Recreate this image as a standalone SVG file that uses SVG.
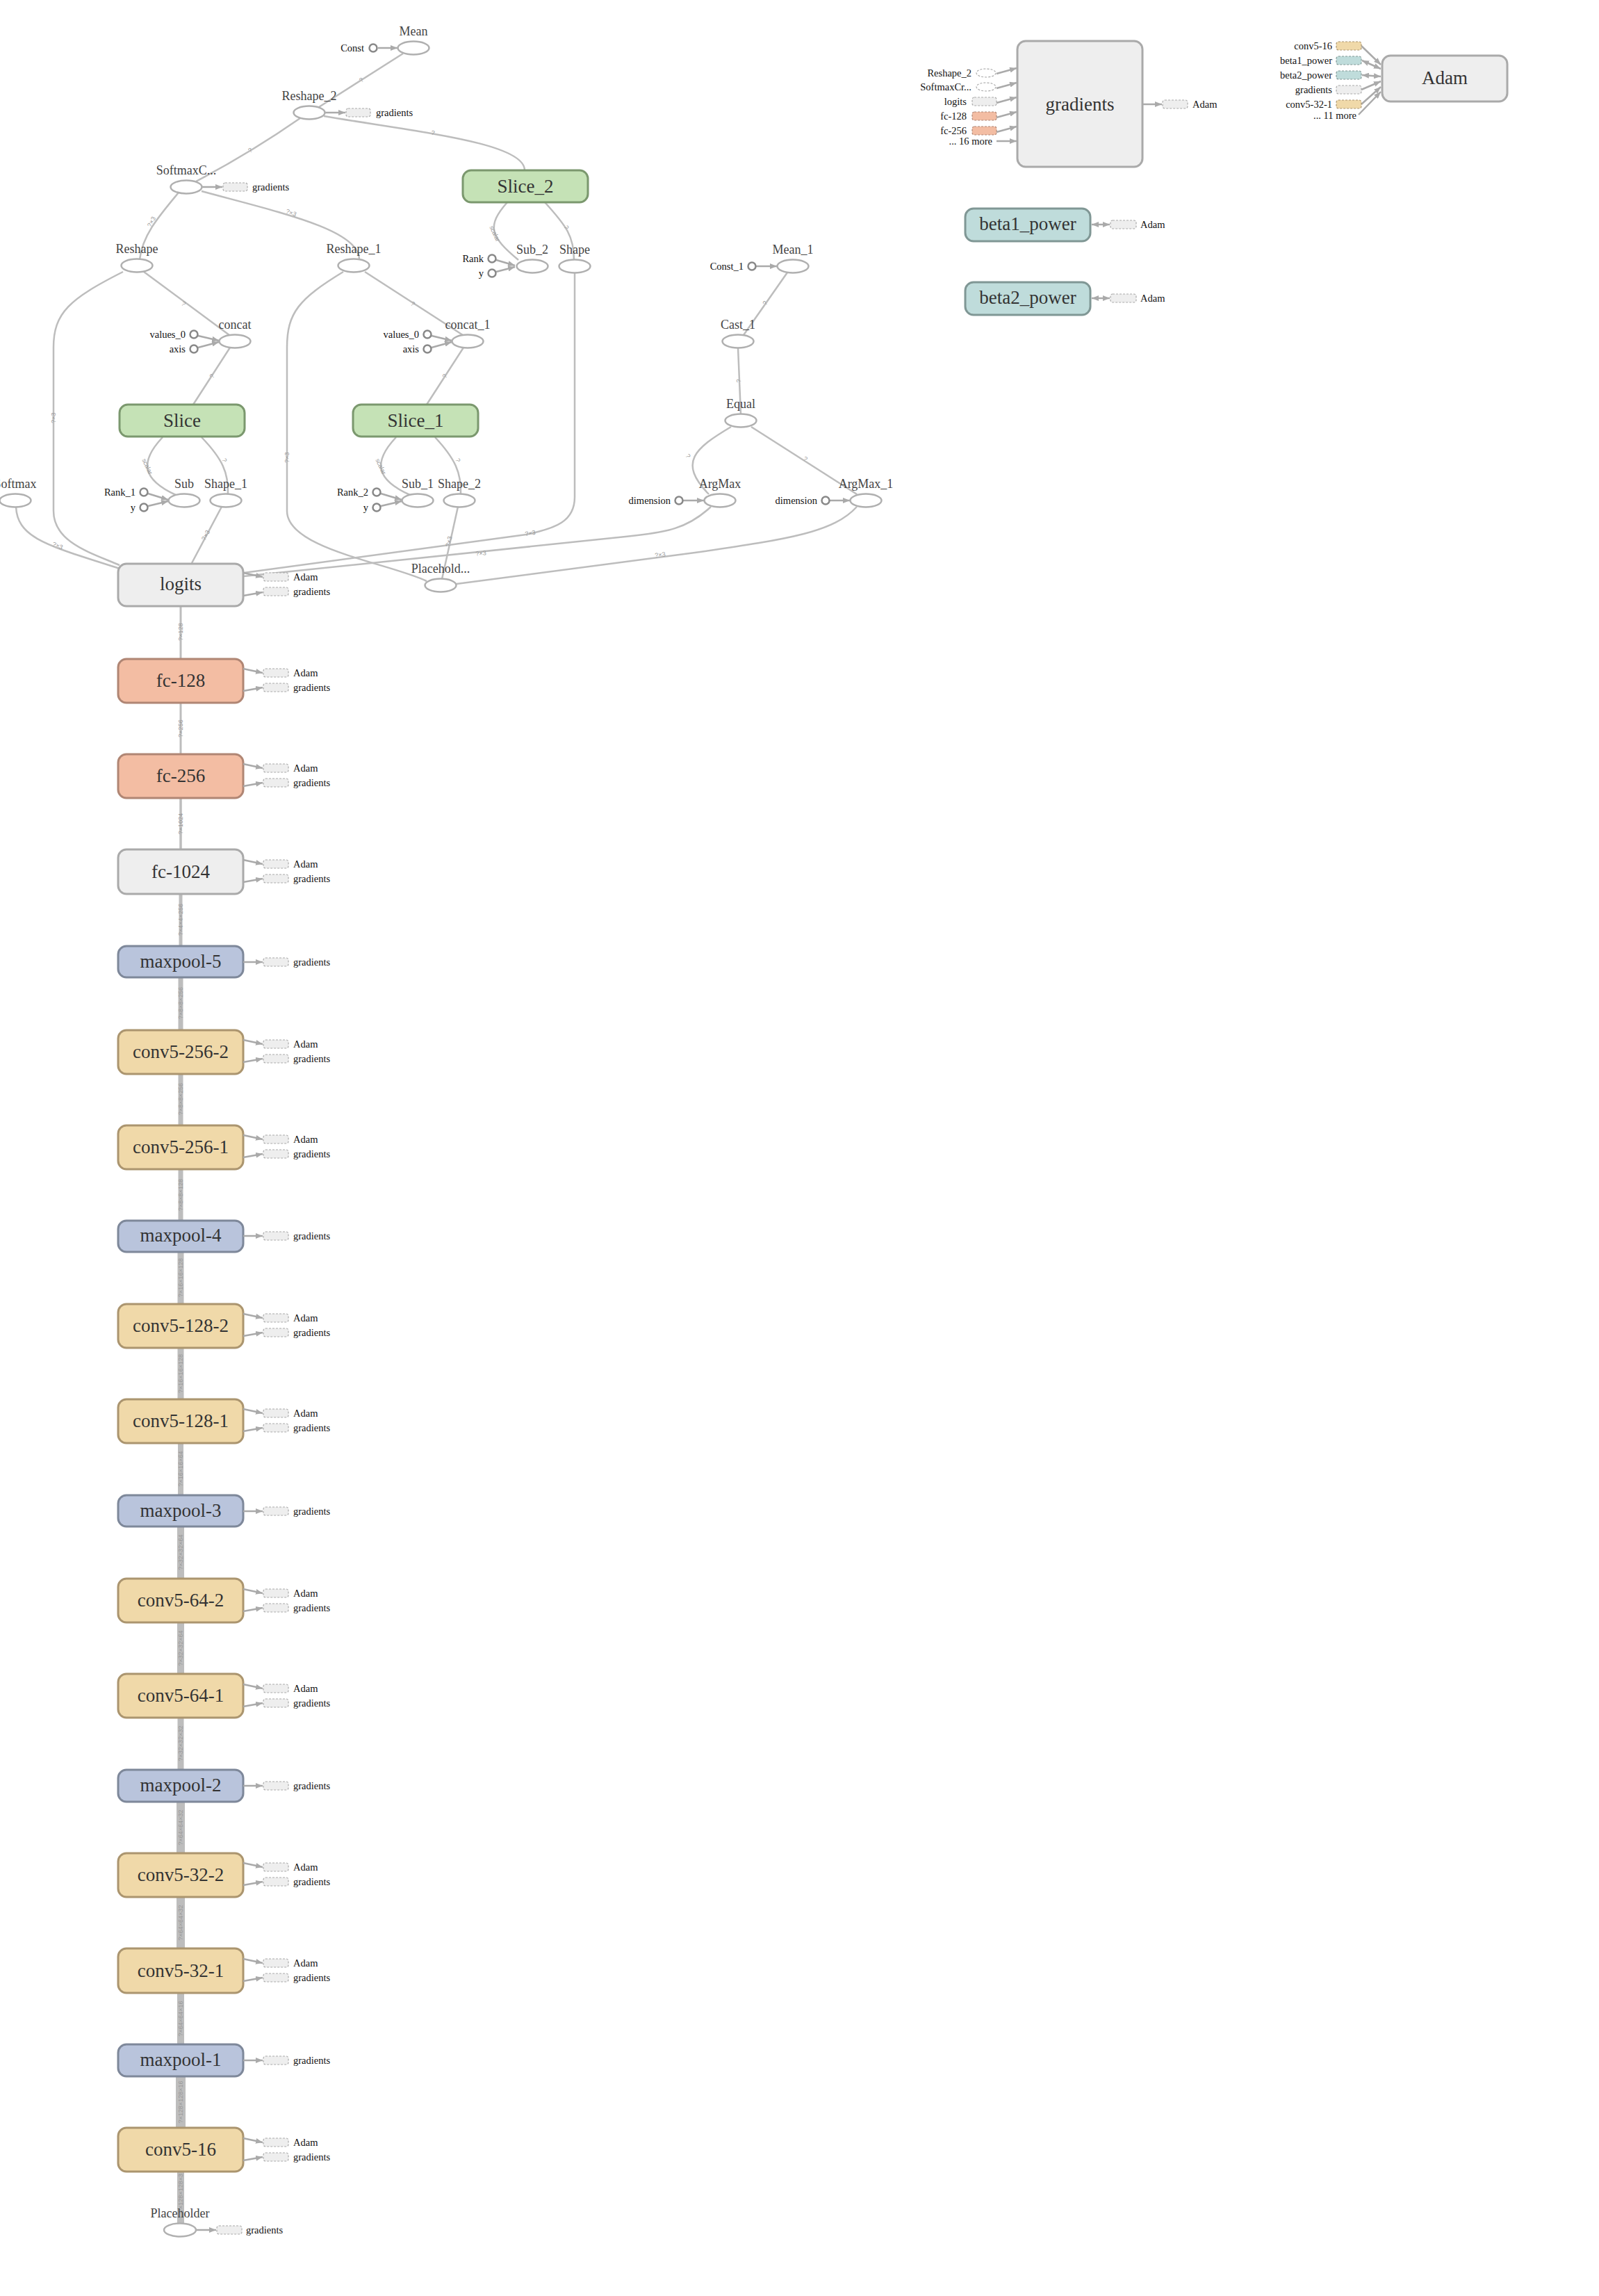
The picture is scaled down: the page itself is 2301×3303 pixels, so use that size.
<svg xmlns="http://www.w3.org/2000/svg" width="2301" height="3303" viewBox="0 0 2301 3303">
<style>
text{font-family:"Liberation Serif",serif;dominant-baseline:central}
.bl{font-size:27px;fill:#333;text-anchor:middle}
.ol{font-size:18px;fill:#444;text-anchor:middle}
.sm{font-size:14.5px;fill:#111}
.smr{font-size:14.5px;fill:#111;text-anchor:end}
.el{font-family:"Liberation Sans",sans-serif;font-size:9px;fill:#999;text-anchor:middle}
.e{fill:none;stroke:#bdbdbd;stroke-width:2.5}
.ce{fill:none;stroke:#bdbdbd}
.ar{fill:none;stroke:#aaa;stroke-width:2.5;marker-end:url(#ah)}
.ar2{fill:none;stroke:#aaa;stroke-width:2.5;marker-end:url(#ah);marker-start:url(#ahs)}
.op{fill:#fff;stroke:#b0b0b0;stroke-width:2.5}
.cn{fill:#fff;stroke:#888;stroke-width:2.5}
.gray{fill:#eeeeee;stroke:#aaaaaa;stroke-width:3}
.fc{fill:#f3bda3;stroke:#b08674;stroke-width:3}
.mp{fill:#b9c4dc;stroke:#7e889a;stroke-width:3}
.cv{fill:#f0d9a9;stroke:#ab956f;stroke-width:3}
.sl{fill:#c5e2b6;stroke:#7b986e;stroke-width:3}
.tl{fill:#bfdcdb;stroke:#809795;stroke-width:3}
.dr{fill:#eeeeee;stroke:#aaa;stroke-width:1.2;stroke-dasharray:3,2}
.drc{fill:#f0d9a9;stroke:#ab956f;stroke-width:1.2;stroke-dasharray:3,2}
.drf{fill:#f3bda3;stroke:#b08674;stroke-width:1.2;stroke-dasharray:3,2}
.drt{fill:#bfdcdb;stroke:#809795;stroke-width:1.2;stroke-dasharray:3,2}
.de{fill:#fff;stroke:#aaa;stroke-width:1.2;stroke-dasharray:3,2}
</style>
<defs>
<marker id="ah" viewBox="0 0 10 8" refX="10" refY="4" markerWidth="10" markerHeight="8" markerUnits="userSpaceOnUse" orient="auto"><path d="M0,0 L10,4 L0,8 z" fill="#aaa"/></marker>
<marker id="ahs" viewBox="0 0 10 8" refX="0" refY="4" markerWidth="10" markerHeight="8" markerUnits="userSpaceOnUse" orient="auto"><path d="M10,0 L0,4 L10,8 z" fill="#aaa"/></marker>
</defs>
<rect width="2301" height="3303" fill="#fff"/>

<g id="connectors">
<path class="e" d="M580,77 L459,154"/>
<path class="e" d="M432,170 Q360,220 282,261"/>
<path class="e" d="M466,167 C600,190 755,205 755,245"/>
<path class="e" d="M257,277 C225,315 205,340 201,373"/>
<path class="e" d="M290,275 C400,305 517,330 517,373"/>
<path class="e" d="M730,291 C700,325 705,340 746,374"/>
<path class="e" d="M784,291 C815,325 826,340 826,374"/>
<path class="e" d="M207,391 L330,482"/>
<path class="e" d="M525,391 L666,482"/>
<path class="e" d="M331,500 L278,582"/>
<path class="e" d="M667,500 L614,582"/>
<path class="e" d="M177,391 C100,430 77,450 77,500 L77,735 C77,780 130,795 172,813"/>
<path class="e" d="M494,391 C430,430 413,450 413,500 L413,735 C413,790 560,810 614,836"/>
<path class="e" d="M234,629 C200,665 205,690 253,712"/>
<path class="e" d="M290,629 C320,660 329,680 328,711"/>
<path class="e" d="M570,629 C536,665 541,690 590,712"/>
<path class="e" d="M626,629 C655,660 664,680 663,711"/>
<path class="e" d="M23,729 C25,775 70,785 172,818"/>
<path class="e" d="M319,729 L276,810"/>
<path class="e" d="M659,729 L636,833"/>
<path class="e" d="M827,392 L827,715 C827,750 800,760 757,769 L351,824"/>
<path class="e" d="M1023,729 C990,760 960,766 900,772 L351,829"/>
<path class="e" d="M1233,729 C1200,765 1140,775 1000,795 L657,840"/>
<path class="e" d="M1133,392 L1070,482"/>
<path class="e" d="M1062,500 L1066,596"/>
<path class="e" d="M1052,614 C1000,645 975,665 1020,711"/>
<path class="e" d="M1081,614 L1233,711"/>

<text class="el" transform="translate(520,115) rotate(-39)">?</text>
<text class="el" transform="translate(360,216) rotate(-35)">?</text>
<text class="el" transform="translate(623,191) rotate(12)">?</text>
<text class="el" transform="translate(218,319) rotate(-62)">?×3</text>
<text class="el" transform="translate(419,306) rotate(20)">?×3</text>
<text class="el" transform="translate(712,336) rotate(65)">scalar</text>
<text class="el" transform="translate(815,327) rotate(70)">?</text>
<text class="el" transform="translate(264,437) rotate(37)">?</text>
<text class="el" transform="translate(594,437) rotate(37)">?</text>
<text class="el" transform="translate(305,541) rotate(-57)">?</text>
<text class="el" transform="translate(640,541) rotate(-57)">?</text>
<text class="el" transform="translate(77,601) rotate(-90)">?×3</text>
<text class="el" transform="translate(413,658) rotate(-90)">?×3</text>
<text class="el" transform="translate(212,671) rotate(65)">scalar</text>
<text class="el" transform="translate(323,662) rotate(70)">?</text>
<text class="el" transform="translate(548,671) rotate(65)">scalar</text>
<text class="el" transform="translate(659,662) rotate(70)">?</text>
<text class="el" transform="translate(83,785) rotate(22)">?×3</text>
<text class="el" transform="translate(296,770) rotate(-62)">?×3</text>
<text class="el" transform="translate(646,779) rotate(-78)">?×3</text>
<text class="el" transform="translate(763,767) rotate(-10)">?×3</text>
<text class="el" transform="translate(692,796) rotate(-6)">?×3</text>
<text class="el" transform="translate(950,798) rotate(-7)">?×3</text>
<text class="el" transform="translate(1101,436) rotate(-55)">?</text>
<text class="el" transform="translate(1063,548) rotate(-88)">?</text>
<text class="el" transform="translate(990,656) rotate(60)">?</text>
<text class="el" transform="translate(1159,660) rotate(33)">?</text>

<path class="ce" stroke-width="3" d="M260,872 V947"/>
<path class="ce" stroke-width="3" d="M260,1011 V1085"/>
<path class="ce" stroke-width="3.5" d="M260,1148 V1222"/>
<path class="ce" stroke-width="5" d="M260,1286 V1361"/>
<path class="ce" stroke-width="7" d="M260,1406 V1481"/>
<path class="ce" stroke-width="7" d="M260,1545 V1618"/>
<path class="ce" stroke-width="7" d="M260,1682 V1756"/>
<path class="ce" stroke-width="9" d="M260,1801 V1876"/>
<path class="ce" stroke-width="9" d="M260,1939 V2013"/>
<path class="ce" stroke-width="8" d="M260,2076 V2151"/>
<path class="ce" stroke-width="10" d="M260,2196 V2271"/>
<path class="ce" stroke-width="10" d="M260,2334 V2408"/>
<path class="ce" stroke-width="9" d="M260,2471 V2546"/>
<path class="ce" stroke-width="12" d="M260,2592 V2666"/>
<path class="ce" stroke-width="12" d="M260,2729 V2803"/>
<path class="ce" stroke-width="10" d="M260,2867 V2941"/>
<path class="ce" stroke-width="14" d="M260,2987 V3061"/>
<path class="ce" stroke-width="10" d="M260,3124 V3199"/>

<text class="el" transform="translate(260,909) rotate(-90)">?×128</text>
<text class="el" transform="translate(260,1048) rotate(-90)">?×256</text>
<text class="el" transform="translate(260,1185) rotate(-90)">?×1024</text>
<text class="el" transform="translate(260,1323) rotate(-90)">?×4×4×256</text>
<text class="el" transform="translate(260,1443) rotate(-90)">?×8×8×256</text>
<text class="el" transform="translate(260,1581) rotate(-90)">?×8×8×256</text>
<text class="el" transform="translate(260,1719) rotate(-90)">?×8×8×128</text>
<text class="el" transform="translate(260,1838) rotate(-90)">?×16×16×128</text>
<text class="el" transform="translate(260,1976) rotate(-90)">?×16×16×128</text>
<text class="el" transform="translate(260,2113) rotate(-90)">?×16×16×64</text>
<text class="el" transform="translate(260,2233) rotate(-90)">?×32×32×64</text>
<text class="el" transform="translate(260,2371) rotate(-90)">?×32×32×64</text>
<text class="el" transform="translate(260,2508) rotate(-90)">?×32×32×32</text>
<text class="el" transform="translate(260,2629) rotate(-90)">?×64×64×32</text>
<text class="el" transform="translate(260,2766) rotate(-90)">?×64×64×32</text>
<text class="el" transform="translate(260,2904) rotate(-90)">?×64×64×16</text>
<text class="el" transform="translate(260,3024) rotate(-90)">?×128×128×16</text>
<text class="el" transform="translate(260,3155) rotate(-90)">?×128×128×3</text>

<path class="ar" d="M544,69 L572,69"/>
<path class="ar" d="M714,374 L741,382"/>
<path class="ar" d="M714,391 L741,384"/>
<path class="ar" d="M285,483 L315,490"/>
<path class="ar" d="M285,500 L315,492"/>
<path class="ar" d="M621,483 L650,490"/>
<path class="ar" d="M621,500 L650,492"/>
<path class="ar" d="M213,710 L242,719"/>
<path class="ar" d="M213,728 L242,721"/>
<path class="ar" d="M548,710 L578,719"/>
<path class="ar" d="M548,728 L578,721"/>
<path class="ar" d="M1088,383 L1118,383"/>
<path class="ar" d="M983,720 L1013,720"/>
<path class="ar" d="M1194,720 L1223,720"/>
<path class="ar" d="M467,162 L497,162"/>
<path class="ar" d="M290,269 L320,269"/>
<path class="ar" d="M282,3208 L311,3208"/>
<path class="ar" d="M1434,106 L1463,98"/>
<path class="ar" d="M1434,127 L1463,119"/>
<path class="ar" d="M1434,148 L1463,140"/>
<path class="ar" d="M1434,169 L1463,161"/>
<path class="ar" d="M1434,190 L1463,182"/>
<path class="ar" d="M1434,203 L1463,203"/>
<path class="ar" d="M1644,150 L1672,150"/>
<path class="ar" d="M1959,66 L1987,93"/>
<path class="ar2" d="M1960,87 L1987,99"/>
<path class="ar2" d="M1960,108 L1987,110"/>
<path class="ar" d="M1959,129 L1987,117"/>
<path class="ar" d="M1959,150 L1987,125"/>
<path class="ar" d="M1955,165 L1987,132"/>
<path class="ar2" d="M1571,323 L1597,323"/>
<path class="ar2" d="M1571,429 L1597,429"/>
</g>

<g id="Mean"><ellipse class="op" cx="595" cy="69" rx="22.5" ry="9.5"/><text class="ol" x="595" y="45">Mean</text></g>
<g id="Const"><circle class="cn" cx="537" cy="69" r="5.5"/><text class="smr" x="524" y="69">Const</text></g>
<g id="Reshape_2"><ellipse class="op" cx="445" cy="162" rx="22.5" ry="9.5"/><text class="ol" x="445" y="138">Reshape_2</text>
<rect class="dr" x="498" y="156" width="35" height="12" rx="3"/><text class="sm" x="541" y="162">gradients</text></g>
<g id="SoftmaxC"><ellipse class="op" cx="268" cy="269" rx="22.5" ry="9.5"/><text class="ol" x="268" y="245">SoftmaxC...</text>
<rect class="dr" x="321" y="263" width="35" height="12" rx="3"/><text class="sm" x="363" y="269">gradients</text></g>
<g id="Slice_2"><rect class="sl" x="666" y="245" width="180" height="46" rx="12"/><text class="bl" x="756" y="268">Slice_2</text></g>
<g id="Reshape"><ellipse class="op" cx="197" cy="382" rx="22.5" ry="9.5"/><text class="ol" x="197" y="358">Reshape</text></g>
<g id="Reshape_1"><ellipse class="op" cx="509" cy="382" rx="22.5" ry="9.5"/><text class="ol" x="509" y="358">Reshape_1</text></g>
<g id="Sub_2"><ellipse class="op" cx="766" cy="383" rx="22.5" ry="9.5"/><text class="ol" x="766" y="359">Sub_2</text></g>
<g id="Rank"><circle class="cn" cx="708" cy="372" r="5.5"/><text class="smr" x="696" y="372">Rank</text></g>
<g id="y_2"><circle class="cn" cx="708" cy="393" r="5.5"/><text class="smr" x="696" y="393">y</text></g>
<g id="Shape"><ellipse class="op" cx="827" cy="383" rx="22.5" ry="9.5"/><text class="ol" x="827" y="359">Shape</text></g>
<g id="Mean_1"><ellipse class="op" cx="1141" cy="383" rx="22.5" ry="9.5"/><text class="ol" x="1141" y="359">Mean_1</text></g>
<g id="Const_1"><circle class="cn" cx="1082" cy="383" r="5.5"/><text class="smr" x="1070" y="383">Const_1</text></g>
<g id="concat"><ellipse class="op" cx="338" cy="491" rx="22.5" ry="9.5"/><text class="ol" x="338" y="467">concat</text></g>
<g id="values_0"><circle class="cn" cx="279" cy="481" r="5.5"/><text class="smr" x="267" y="481">values_0</text></g>
<g id="axis"><circle class="cn" cx="279" cy="502" r="5.5"/><text class="smr" x="267" y="502">axis</text></g>
<g id="concat_1"><ellipse class="op" cx="673" cy="491" rx="22.5" ry="9.5"/><text class="ol" x="673" y="467">concat_1</text></g>
<g id="values_0_1"><circle class="cn" cx="615" cy="481" r="5.5"/><text class="smr" x="603" y="481">values_0</text></g>
<g id="axis_1"><circle class="cn" cx="615" cy="502" r="5.5"/><text class="smr" x="603" y="502">axis</text></g>
<g id="Cast_1"><ellipse class="op" cx="1062" cy="491" rx="22.5" ry="9.5"/><text class="ol" x="1062" y="467">Cast_1</text></g>
<g id="Slice"><rect class="sl" x="172" y="582" width="180" height="46" rx="12"/><text class="bl" x="262" y="605">Slice</text></g>
<g id="Slice_1"><rect class="sl" x="508" y="582" width="180" height="46" rx="12"/><text class="bl" x="598" y="605">Slice_1</text></g>
<g id="Equal"><ellipse class="op" cx="1066" cy="605" rx="22.5" ry="9.5"/><text class="ol" x="1066" y="581">Equal</text></g>
<g id="Softmax"><ellipse class="op" cx="22" cy="720" rx="22.5" ry="9.5"/><text class="ol" x="22" y="696">Softmax</text></g>
<g id="Sub"><ellipse class="op" cx="265" cy="720" rx="22.5" ry="9.5"/><text class="ol" x="265" y="696">Sub</text></g>
<g id="Rank_1"><circle class="cn" cx="207" cy="708" r="5.5"/><text class="smr" x="195" y="708">Rank_1</text></g>
<g id="y"><circle class="cn" cx="207" cy="730" r="5.5"/><text class="smr" x="195" y="730">y</text></g>
<g id="Shape_1"><ellipse class="op" cx="325" cy="720" rx="22.5" ry="9.5"/><text class="ol" x="325" y="696">Shape_1</text></g>
<g id="Sub_1"><ellipse class="op" cx="601" cy="720" rx="22.5" ry="9.5"/><text class="ol" x="601" y="696">Sub_1</text></g>
<g id="Rank_2"><circle class="cn" cx="542" cy="708" r="5.5"/><text class="smr" x="530" y="708">Rank_2</text></g>
<g id="y_1"><circle class="cn" cx="542" cy="730" r="5.5"/><text class="smr" x="530" y="730">y</text></g>
<g id="Shape_2"><ellipse class="op" cx="661" cy="720" rx="22.5" ry="9.5"/><text class="ol" x="661" y="696">Shape_2</text></g>
<g id="ArgMax"><ellipse class="op" cx="1036" cy="720" rx="22.5" ry="9.5"/><text class="ol" x="1036" y="696">ArgMax</text></g>
<g id="dimension"><circle class="cn" cx="977" cy="720" r="5.5"/><text class="smr" x="965" y="720">dimension</text></g>
<g id="ArgMax_1"><ellipse class="op" cx="1246" cy="720" rx="22.5" ry="9.5"/><text class="ol" x="1246" y="696">ArgMax_1</text></g>
<g id="dimension_1"><circle class="cn" cx="1188" cy="720" r="5.5"/><text class="smr" x="1176" y="720">dimension</text></g>
<g id="Placeholder_1"><ellipse class="op" cx="634" cy="842" rx="22.5" ry="9.5"/><text class="ol" x="634" y="818">Placehold...</text></g>

<g id="logits"><rect class="gray" x="170" y="811" width="180" height="61" rx="12"/><text class="bl" x="260" y="840">logits</text>
<path class="ar" d="M350,824 L378,830"/><path class="ar" d="M350,857 L378,852"/>
<rect class="dr" x="379" y="824" width="36" height="12" rx="3"/><text class="sm" x="422" y="830">Adam</text>
<rect class="dr" x="379" y="845" width="36" height="12" rx="3"/><text class="sm" x="422" y="851">gradients</text></g>

<g id="fc-128"><rect class="fc" x="170" y="948" width="180" height="63" rx="12"/><text class="bl" x="260" y="979">fc-128</text>
<path class="ar" d="M350,962 L378,968"/><path class="ar" d="M350,994 L378,989"/>
<rect class="dr" x="379" y="962" width="36" height="12" rx="3"/><text class="sm" x="422" y="968">Adam</text>
<rect class="dr" x="379" y="983" width="36" height="12" rx="3"/><text class="sm" x="422" y="989">gradients</text></g>

<g id="fc-256"><rect class="fc" x="170" y="1085" width="180" height="63" rx="12"/><text class="bl" x="260" y="1116">fc-256</text>
<path class="ar" d="M350,1099 L378,1105"/><path class="ar" d="M350,1131 L378,1126"/>
<rect class="dr" x="379" y="1099" width="36" height="12" rx="3"/><text class="sm" x="422" y="1105">Adam</text>
<rect class="dr" x="379" y="1120" width="36" height="12" rx="3"/><text class="sm" x="422" y="1126">gradients</text></g>

<g id="fc-1024"><rect class="gray" x="170" y="1222" width="180" height="64" rx="12"/><text class="bl" x="260" y="1254">fc-1024</text>
<path class="ar" d="M350,1237 L378,1243"/><path class="ar" d="M350,1269 L378,1264"/>
<rect class="dr" x="379" y="1237" width="36" height="12" rx="3"/><text class="sm" x="422" y="1243">Adam</text>
<rect class="dr" x="379" y="1258" width="36" height="12" rx="3"/><text class="sm" x="422" y="1264">gradients</text></g>

<g id="maxpool-5"><rect class="mp" x="170" y="1361" width="180" height="45" rx="12"/><text class="bl" x="260" y="1383">maxpool-5</text>
<path class="ar" d="M350,1384 L378,1384"/><rect class="dr" x="379" y="1378" width="36" height="12" rx="3"/><text class="sm" x="422" y="1384">gradients</text></g>

<g id="conv5-256-2"><rect class="cv" x="170" y="1482" width="180" height="63" rx="12"/><text class="bl" x="260" y="1513">conv5-256-2</text>
<path class="ar" d="M350,1496 L378,1502"/><path class="ar" d="M350,1528 L378,1523"/>
<rect class="dr" x="379" y="1496" width="36" height="12" rx="3"/><text class="sm" x="422" y="1502">Adam</text>
<rect class="dr" x="379" y="1517" width="36" height="12" rx="3"/><text class="sm" x="422" y="1523">gradients</text></g>

<g id="conv5-256-1"><rect class="cv" x="170" y="1619" width="180" height="63" rx="12"/><text class="bl" x="260" y="1650">conv5-256-1</text>
<path class="ar" d="M350,1633 L378,1639"/><path class="ar" d="M350,1665 L378,1660"/>
<rect class="dr" x="379" y="1633" width="36" height="12" rx="3"/><text class="sm" x="422" y="1639">Adam</text>
<rect class="dr" x="379" y="1654" width="36" height="12" rx="3"/><text class="sm" x="422" y="1660">gradients</text></g>

<g id="maxpool-4"><rect class="mp" x="170" y="1756" width="180" height="45" rx="12"/><text class="bl" x="260" y="1777">maxpool-4</text>
<path class="ar" d="M350,1778 L378,1778"/><rect class="dr" x="379" y="1772" width="36" height="12" rx="3"/><text class="sm" x="422" y="1778">gradients</text></g>

<g id="conv5-128-2"><rect class="cv" x="170" y="1876" width="180" height="63" rx="12"/><text class="bl" x="260" y="1907">conv5-128-2</text>
<path class="ar" d="M350,1890 L378,1896"/><path class="ar" d="M350,1922 L378,1917"/>
<rect class="dr" x="379" y="1890" width="36" height="12" rx="3"/><text class="sm" x="422" y="1896">Adam</text>
<rect class="dr" x="379" y="1911" width="36" height="12" rx="3"/><text class="sm" x="422" y="1917">gradients</text></g>

<g id="conv5-128-1"><rect class="cv" x="170" y="2013" width="180" height="63" rx="12"/><text class="bl" x="260" y="2044">conv5-128-1</text>
<path class="ar" d="M350,2027 L378,2033"/><path class="ar" d="M350,2059 L378,2054"/>
<rect class="dr" x="379" y="2027" width="36" height="12" rx="3"/><text class="sm" x="422" y="2033">Adam</text>
<rect class="dr" x="379" y="2048" width="36" height="12" rx="3"/><text class="sm" x="422" y="2054">gradients</text></g>

<g id="maxpool-3"><rect class="mp" x="170" y="2151" width="180" height="45" rx="12"/><text class="bl" x="260" y="2173">maxpool-3</text>
<path class="ar" d="M350,2174 L378,2174"/><rect class="dr" x="379" y="2168" width="36" height="12" rx="3"/><text class="sm" x="422" y="2174">gradients</text></g>

<g id="conv5-64-2"><rect class="cv" x="170" y="2271" width="180" height="63" rx="12"/><text class="bl" x="260" y="2302">conv5-64-2</text>
<path class="ar" d="M350,2286 L378,2292"/><path class="ar" d="M350,2318 L378,2313"/>
<rect class="dr" x="379" y="2286" width="36" height="12" rx="3"/><text class="sm" x="422" y="2292">Adam</text>
<rect class="dr" x="379" y="2307" width="36" height="12" rx="3"/><text class="sm" x="422" y="2313">gradients</text></g>

<g id="conv5-64-1"><rect class="cv" x="170" y="2408" width="180" height="63" rx="12"/><text class="bl" x="260" y="2439">conv5-64-1</text>
<path class="ar" d="M350,2423 L378,2429"/><path class="ar" d="M350,2455 L378,2450"/>
<rect class="dr" x="379" y="2423" width="36" height="12" rx="3"/><text class="sm" x="422" y="2429">Adam</text>
<rect class="dr" x="379" y="2444" width="36" height="12" rx="3"/><text class="sm" x="422" y="2450">gradients</text></g>

<g id="maxpool-2"><rect class="mp" x="170" y="2546" width="180" height="46" rx="12"/><text class="bl" x="260" y="2568">maxpool-2</text>
<path class="ar" d="M350,2569 L378,2569"/><rect class="dr" x="379" y="2563" width="36" height="12" rx="3"/><text class="sm" x="422" y="2569">gradients</text></g>

<g id="conv5-32-2"><rect class="cv" x="170" y="2666" width="180" height="63" rx="12"/><text class="bl" x="260" y="2697">conv5-32-2</text>
<path class="ar" d="M350,2680 L378,2686"/><path class="ar" d="M350,2712 L378,2707"/>
<rect class="dr" x="379" y="2680" width="36" height="12" rx="3"/><text class="sm" x="422" y="2686">Adam</text>
<rect class="dr" x="379" y="2701" width="36" height="12" rx="3"/><text class="sm" x="422" y="2707">gradients</text></g>

<g id="conv5-32-1"><rect class="cv" x="170" y="2803" width="180" height="64" rx="12"/><text class="bl" x="260" y="2835">conv5-32-1</text>
<path class="ar" d="M350,2818 L378,2824"/><path class="ar" d="M350,2850 L378,2845"/>
<rect class="dr" x="379" y="2818" width="36" height="12" rx="3"/><text class="sm" x="422" y="2824">Adam</text>
<rect class="dr" x="379" y="2839" width="36" height="12" rx="3"/><text class="sm" x="422" y="2845">gradients</text></g>

<g id="maxpool-1"><rect class="mp" x="170" y="2941" width="180" height="46" rx="12"/><text class="bl" x="260" y="2963">maxpool-1</text>
<path class="ar" d="M350,2964 L378,2964"/><rect class="dr" x="379" y="2958" width="36" height="12" rx="3"/><text class="sm" x="422" y="2964">gradients</text></g>

<g id="conv5-16"><rect class="cv" x="170" y="3061" width="180" height="63" rx="12"/><text class="bl" x="260" y="3092">conv5-16</text>
<path class="ar" d="M350,3076 L378,3082"/><path class="ar" d="M350,3108 L378,3103"/>
<rect class="dr" x="379" y="3076" width="36" height="12" rx="3"/><text class="sm" x="422" y="3082">Adam</text>
<rect class="dr" x="379" y="3097" width="36" height="12" rx="3"/><text class="sm" x="422" y="3103">gradients</text></g>

<g id="Placeholder"><ellipse class="op" cx="259" cy="3208" rx="23" ry="9.5"/><text class="ol" x="259" y="3184">Placeholder</text>
<rect class="dr" x="312" y="3202" width="36" height="12" rx="3"/><text class="sm" x="354" y="3208">gradients</text></g>

<g id="gradients"><rect class="gray" x="1464" y="59" width="180" height="181" rx="12"/><text class="bl" x="1554" y="150">gradients</text>
<text class="smr" x="1398" y="105">Reshape_2</text><ellipse class="de" cx="1419" cy="105" rx="14" ry="6"/>
<text class="smr" x="1398" y="125">SoftmaxCr...</text><ellipse class="de" cx="1419" cy="125" rx="14" ry="6"/>
<text class="smr" x="1391" y="146">logits</text><rect class="dr" x="1399" y="140" width="35" height="12" rx="3"/>
<text class="smr" x="1391" y="167">fc-128</text><rect class="drf" x="1399" y="161" width="35" height="12" rx="3"/>
<text class="smr" x="1391" y="188">fc-256</text><rect class="drf" x="1399" y="182" width="35" height="12" rx="3"/>
<text class="smr" x="1428" y="203">... 16 more</text>
<rect class="dr" x="1673" y="144" width="36" height="12" rx="3"/><text class="sm" x="1716" y="150">Adam</text></g>

<g id="Adam"><rect class="gray" x="1989" y="80" width="180" height="66" rx="12"/><text class="bl" x="2079" y="112">Adam</text>
<text class="smr" x="1917" y="66">conv5-16</text><rect class="drc" x="1923" y="60" width="36" height="12" rx="3"/>
<text class="smr" x="1917" y="87">beta1_power</text><rect class="drt" x="1923" y="81" width="36" height="12" rx="3"/>
<text class="smr" x="1917" y="108">beta2_power</text><rect class="drt" x="1923" y="102" width="36" height="12" rx="3"/>
<text class="smr" x="1917" y="129">gradients</text><rect class="dr" x="1923" y="123" width="36" height="12" rx="3"/>
<text class="smr" x="1917" y="150">conv5-32-1</text><rect class="drc" x="1923" y="144" width="36" height="12" rx="3"/>
<text class="smr" x="1952" y="166">... 11 more</text></g>

<g id="beta1_power"><rect class="tl" x="1389" y="300" width="180" height="47" rx="12"/><text class="bl" x="1479" y="322">beta1_power</text>
<rect class="dr" x="1598" y="317" width="37" height="12" rx="3"/><text class="sm" x="1641" y="323">Adam</text></g>
<g id="beta2_power"><rect class="tl" x="1389" y="406" width="180" height="47" rx="12"/><text class="bl" x="1479" y="428">beta2_power</text>
<rect class="dr" x="1598" y="423" width="37" height="12" rx="3"/><text class="sm" x="1641" y="429">Adam</text></g>
</svg>
